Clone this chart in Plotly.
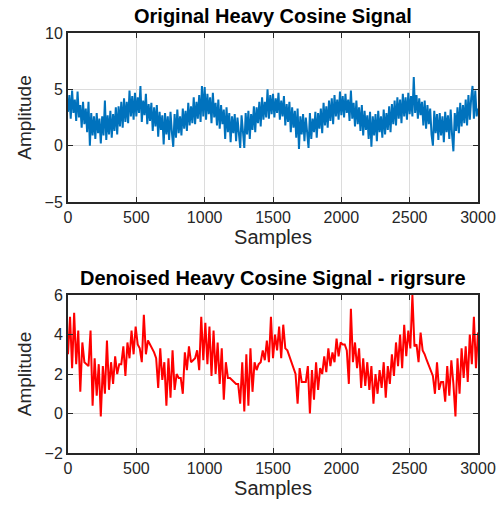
import plotly.graph_objects as go

# Sample positions
samples_orig = list(range(0, 3001, 10))   # original: one value per 10 samples
samples_den = list(range(0, 3001, 15))    # denoised: one value per 15 samples

# Original heavy cosine signal
original = [
    3.0, 4.5, 2.4, 4.9, 2.9, 4.1, 2.2, 4.8, 2.5, 3.6,
    1.6, 3.9, 1.9, 3.3, 1.2, 3.9, 0.0, 2.9, 0.9, 2.6,
    0.6, 2.9, 1.1, 2.4, 0.2, 2.6, 0.9, 4.0, 0.5, 2.7,
    1.0, 3.1, 0.7, 2.8, 1.3, 3.4, 1.0, 3.5, 1.7, 3.9,
    1.6, 4.2, 2.1, 3.9, 2.0, 4.9, 2.6, 4.4, 2.3, 4.7,
    2.6, 4.3, 2.9, 5.3, 2.1, 4.0, 2.7, 4.6, 1.9, 3.7,
    2.2, 3.8, 1.3, 3.4, 1.7, 3.6, 0.8, 3.0, 1.4, 2.7,
    0.1, 2.9, 1.0, 2.6, 0.5, 3.0, 1.2, -0.1, 2.8, 0.7,
    3.2, 1.1, 2.6, 0.9, 3.3, 1.5, 3.1, 1.3, 3.8, 1.8,
    3.5, 2.0, 4.3, 1.9, 3.9, 2.4, 4.5, 2.1, 5.3, 2.6,
    5.2, 2.3, 4.6, 2.8, 4.3, 2.0, 4.7, 2.5, 3.8, 1.8,
    4.1, 1.5, 3.6, 1.9, 3.2, 0.6, 3.4, 1.2, 2.9, 0.3,
    2.6, 1.1, 2.8, 0.4, 2.5, 1.3, -0.2, 2.7, 0.8, -0.2,
    2.9, 1.0, 3.1, 0.6, 2.8, 1.4, 3.5, 1.2, 3.4, 2.0,
    3.9, 1.7, 4.3, 2.3, 3.9, 2.5, 5.0, 2.4, 4.5, 2.8,
    4.6, 2.5, 4.2, 2.9, 4.7, 2.3, 4.0, 2.6, 4.4, 1.8,
    3.7, 2.1, 3.9, 1.2, 3.4, 1.6, 3.1, 0.7, 3.3, -0.3,
    2.6, 1.0, 2.8, 0.4, 2.5, 1.1, -0.2, 2.9, 0.6, 2.4,
    1.2, 3.0, 0.7, 2.9, 1.5, 3.3, 1.1, 3.8, 1.8, 3.5,
    1.6, 4.0, 2.2, 4.2, 1.9, 4.5, 2.6, 4.1, 2.3, 4.8,
    2.7, 4.4, 2.5, 4.6, 2.9, 4.1, 2.2, 4.9, 2.4, 3.8,
    1.7, 4.0, 1.9, 3.4, 1.3, 3.6, 0.9, 3.1, 1.4, 2.7,
    0.6, 3.0, -0.1, 2.6, 0.9, 2.8, 0.4, 3.1, 1.2, 2.6,
    0.7, 3.2, 1.0, 2.9, 1.4, 3.5, 1.2, 3.7, 1.9, 4.0,
    1.8, 4.3, 2.4, 4.1, 2.0, 4.6, 2.6, 4.3, 2.3, 4.7,
    2.8, 4.4, 2.6, 6.1, 2.9, 4.5, 2.4, 4.2, 2.7, 3.9,
    1.8, 4.0, 1.5, 3.6, 1.9, 3.3, 1.0, 0.0, 3.1, 1.1,
    2.8, 0.5, 2.9, 0.9, 2.6, 0.3, 3.0, 1.2, 2.7, 0.6,
    3.2, 1.0, -0.5, 2.9, 1.3, 3.4, 1.1, 3.8, 1.7, 3.6,
    2.0, 4.1, 1.8, 4.5, 2.3, 4.2, 5.3, 2.4, 4.9, 2.6,
    3.3,
]

# Denoised signal (rigrsure thresholding)
denoised = [
    3.0, 4.9, 2.3, 5.1, 2.5, 4.2, 1.1, 3.6, 2.6, 2.5,
    2.4, 4.2, 0.4, 2.8, 0.9, 2.5, -0.15, 2.4, 1.0, 3.7,
    1.2, 2.6, 1.5, 2.9, 2.0, 2.5, 2.5, 3.4, 1.9, 3.6,
    2.8, 4.2, 3.0, 4.4, 3.5, 3.3, 2.6, 5.0, 3.0, 3.7,
    3.5, 3.3, 3.1, 2.8, 1.3, 3.3, 1.7, 2.6, 0.4, 2.8,
    0.8, 3.2, 1.2, 2.0, 1.8, 1.8, 1.0, 3.1, 2.2, 3.4,
    2.6, 2.7, 2.8, 3.2, 2.2, 4.9, 2.7, 4.6, 2.5, 4.4,
    1.9, 4.2, 2.0, 3.6, 1.5, 3.3, 0.7, 2.6, 1.8, 1.8,
    1.7, 1.6, 1.5, 1.5, 0.5, 2.6, 0.1, 3.0, 0.4, 3.3,
    1.1, 2.6, 2.2, 2.5, 2.6, 3.2, 2.7, 3.7, 2.6, 4.9,
    2.8, 4.0, 3.2, 4.4, 2.8, 4.5, 3.3, 3.2, 2.9, 2.6,
    2.4, 2.0, 0.5, 2.3, 1.6, 1.6, 1.6, 2.4, 0.0, 2.2,
    0.7, 2.6, 1.2, 2.3, 2.0, 2.9, 2.1, 3.3, 2.4, 3.1,
    2.6, 3.8, 2.9, 3.6, 3.5, 3.5, 3.2, 1.5, 5.3, 2.6,
    3.6, 2.3, 3.3, 1.3, 2.8, 1.4, 2.6, 1.2, 2.4, 0.5,
    2.0, 1.0, 2.2, 1.3, 2.6, 0.8, 2.4, 1.5, 3.0, 1.9,
    3.6, 2.4, 4.0, 2.3, 4.5, 2.9, 4.2, 3.3, 6.0, 3.4,
    3.5, 2.6, 4.1, 3.2, 3.0, 2.7, 2.4, 2.2, 1.9, 1.0,
    2.6, 1.2, 1.6, 1.6, 0.6, 2.4, 0.9, 2.7, 1.5, -0.15,
    2.8, 1.0, 3.3, 1.8, 3.4, 1.6, 4.0, 2.5, 4.9, 2.3,
    4.1,
]

x_ticks = [0, 500, 1000, 1500, 2000, 2500, 3000]
y_ticks_top = [-5, 0, 5, 10]
y_ticks_bottom = [-2, 0, 2, 4, 6]

FONT = "Liberation Sans, Arial, sans-serif"
AXIS_COL = "#262626"
GRID_COL = "#dcdcdc"

fig = go.Figure()
fig.add_trace(go.Scatter(x=samples_orig[:len(original)], y=original, mode="lines",
                         line=dict(color="#0072BD", width=2),
                         xaxis="x", yaxis="y", showlegend=False))
fig.add_trace(go.Scatter(x=samples_den[:len(denoised)], y=denoised, mode="lines",
                         line=dict(color="#FF0000", width=2),
                         xaxis="x2", yaxis="y2", showlegend=False))

def xax(anchor):
    return dict(range=[0, 3000], tickvals=x_ticks, ticks="inside", ticklen=5,
                tickcolor=AXIS_COL, showline=True, linecolor=AXIS_COL,
                linewidth=2, mirror="ticks", showgrid=True, gridcolor=GRID_COL,
                gridwidth=1, zeroline=False, anchor=anchor, automargin=False,
                tickfont=dict(family=FONT, size=16, color=AXIS_COL),
                title=dict(text="Samples", standoff=4,
                           font=dict(family=FONT, size=20, color=AXIS_COL)))

def yax(rng, ticks, anchor, domain):
    return dict(range=rng, tickvals=ticks, ticks="inside", ticklen=5,
                tickcolor=AXIS_COL, showline=True, linecolor=AXIS_COL,
                linewidth=2, mirror="ticks", showgrid=True, gridcolor=GRID_COL,
                gridwidth=1, zeroline=False, anchor=anchor, domain=domain,
                automargin=False,
                tickfont=dict(family=FONT, size=16, color=AXIS_COL),
                title=dict(text="Amplitude", standoff=8,
                           font=dict(family=FONT, size=19, color=AXIS_COL)))

fig.update_layout(
    width=496, height=508,
    margin=dict(l=68, r=18, t=33, b=55),
    paper_bgcolor="white", plot_bgcolor="white",
    xaxis=xax("y"),
    yaxis=yax([-5, 10], y_ticks_top, "x", [0.5976, 1.0]),
    xaxis2=xax("y2"),
    yaxis2=yax([-2, 6], y_ticks_bottom, "x2", [0.0, 0.376]),
    annotations=[
        dict(text="<b>Original Heavy Cosine Signal</b>", xref="paper",
             yref="paper", x=0.5, y=1.0, yshift=4, xanchor="center",
             yanchor="bottom", showarrow=False,
             font=dict(family=FONT, size=20, color="black")),
        dict(text="<b>Denoised Heavy Cosine Signal - rigrsure</b>",
             xref="paper", yref="paper", x=0.5, y=0.376, yshift=4,
             xanchor="center", yanchor="bottom", showarrow=False,
             font=dict(family=FONT, size=20, color="black")),
    ],
)

# Remove the default 8px page margin so the figure fills the window exactly
fig.write_html("out.html",
               config={"displayModeBar": False},
               post_script="document.body.style.margin='0';")
